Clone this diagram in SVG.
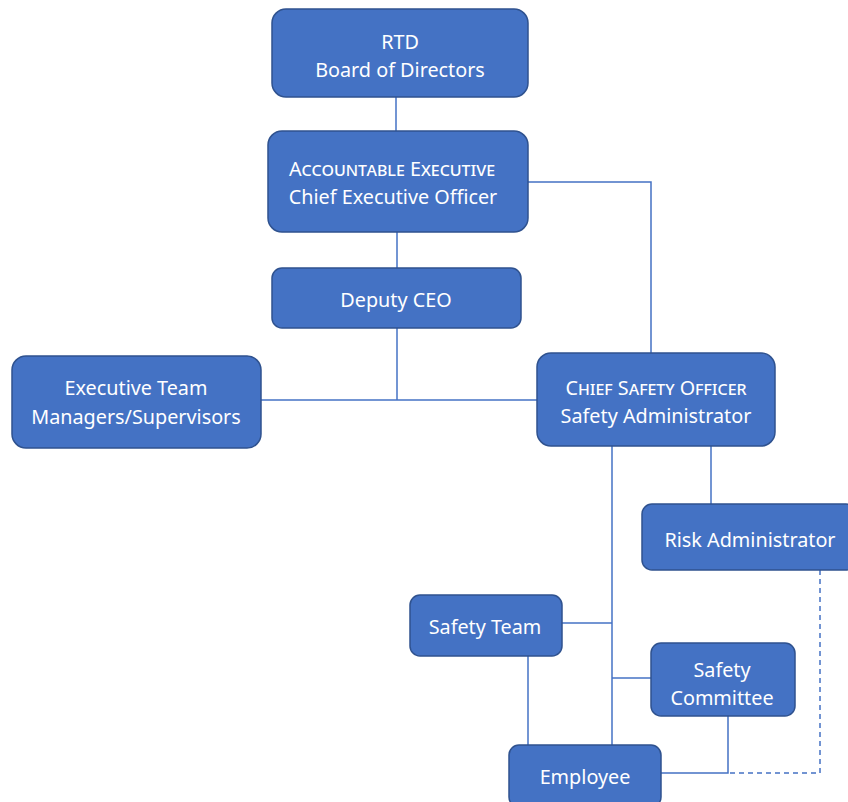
<svg xmlns="http://www.w3.org/2000/svg" width="848" height="802" viewBox="0 0 848 802">
<style>
.box{fill:#4472C4;stroke:#2F528F;stroke-width:1.5}
.t{font-family:"Noto Sans","Liberation Sans",sans-serif;font-size:19.8px;fill:#fff;text-anchor:middle;dominant-baseline:central}
.sc{font-variant:small-caps}
.c{fill:none;stroke:#4472C4;stroke-width:1.5}
.d{stroke-dasharray:5 4}
</style>
<rect width="848" height="802" fill="#fff"/>
<g id="connectors">
<path class="c" d="M396 97V131"/>
<path class="c" d="M528 182H651V353"/>
<path class="c" d="M397 232V268"/>
<path class="c" d="M397 328V400"/>
<path class="c" d="M261 400H537"/>
<path class="c" d="M612 446V745"/>
<path class="c" d="M711 446V504"/>
<path class="c" d="M562 623H612"/>
<path class="c" d="M612 678H651"/>
<path class="c" d="M528 656V745"/>
<path class="c" d="M728 716V773H661"/>
<path class="c d" d="M820 570V773H728"/>
</g>
<g id="board"><rect class="box" x="272" y="9" width="256" height="88" rx="14"/><text class="t" x="400" y="41">RTD</text><text class="t" x="400" y="69">Board of Directors</text></g>
<g id="ceo"><rect class="box" x="268" y="131" width="260" height="101" rx="14"/><text class="t sc" x="392" y="168">Accountable Executive</text><text class="t" x="393" y="196">Chief Executive Officer</text></g>
<g id="deputy"><rect class="box" x="272" y="268" width="249" height="60" rx="10"/><text class="t" x="396" y="299">Deputy CEO</text></g>
<g id="exec"><rect class="box" x="12" y="356" width="249" height="92" rx="14"/><text class="t" x="136" y="387">Executive Team</text><text class="t" x="136" y="416">Managers/Supervisors</text></g>
<g id="cso"><rect class="box" x="537" y="353" width="238" height="93" rx="14"/><text class="t sc" x="656" y="387">Chief Safety Officer</text><text class="t" x="656" y="415">Safety Administrator</text></g>
<g id="risk"><rect class="box" x="642" y="504" width="214" height="66" rx="10"/><text class="t" x="750" y="539">Risk Administrator</text></g>
<g id="safetyteam"><rect class="box" x="410" y="595" width="152" height="61" rx="10"/><text class="t" x="485" y="626">Safety Team</text></g>
<g id="committee"><rect class="box" x="651" y="643" width="144" height="73" rx="10"/><text class="t" x="722" y="669">Safety</text><text class="t" x="722" y="697">Committee</text></g>
<g id="employee"><rect class="box" x="509" y="745" width="152" height="62" rx="10"/><text class="t" x="585" y="776">Employee</text></g>
</svg>
